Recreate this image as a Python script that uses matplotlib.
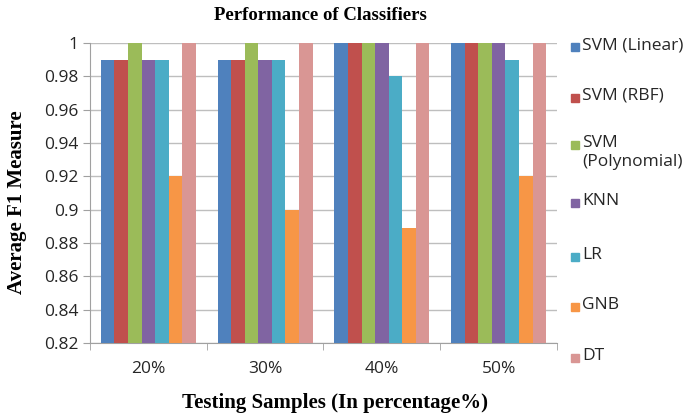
import matplotlib
matplotlib.use("Agg")
import matplotlib.pyplot as plt
from matplotlib.patches import Rectangle
import numpy as np

# Data
groups = ["20%", "30%", "40%", "50%"]
classifiers = ["SVM (Linear)", "SVM (RBF)", "SVM\n(Polynomial)", "KNN", "LR", "GNB", "DT"]
svm_linear = [0.99, 0.99, 1.0, 1.0]
svm_rbf = [0.99, 0.99, 1.0, 1.0]
svm_poly = [1.0, 1.0, 1.0, 1.0]
knn = [0.99, 0.99, 1.0, 1.0]
lr = [0.99, 0.99, 0.98, 0.99]
gnb = [0.92, 0.90, 0.889, 0.92]
dt = [1.0, 1.0, 1.0, 1.0]
series = [svm_linear, svm_rbf, svm_poly, knn, lr, gnb, dt]

colors = ["#4F81BD", "#C0504D", "#9BBB59", "#8064A2", "#4BACC6", "#F79646", "#D99694"]

W, H = 693, 420
fig = plt.figure(figsize=(W / 100, H / 100), dpi=100)
ax = fig.add_axes([90 / W, 1 - 343 / H, (557 - 90) / W, (343 - 43) / H])

tick_font = "Open Sans"
serif = "Liberation Serif"
txt_col = "#262626"
fs = 12.5

x = np.arange(len(groups))
n = len(series)
group_w = 7 / (7 + 1.6)
bw = group_w / n
for i, (vals, c) in enumerate(zip(series, colors)):
    offs = -group_w / 2 + bw * (i + 0.5)
    ax.bar(x + offs, vals, bw, color=c, zorder=3)

ax.set_ylim(0.82, 1.0)
ax.set_xlim(-0.5, len(groups) - 0.5)
yt = np.round(np.arange(0.82, 1.0001, 0.02), 2)
ax.set_yticks(yt)
ax.set_yticklabels([f"{v:g}" for v in yt], fontsize=fs, family=tick_font, color=txt_col)
ax.yaxis.grid(True, color="#BEBEBE", linewidth=1, zorder=0)
ax.tick_params(axis="y", length=5, color="#A0A0A0", pad=3)

ax.set_xticks(x)
ax.set_xticklabels(groups, fontsize=fs, family=tick_font, color=txt_col)
ax.tick_params(axis="x", length=0, pad=13)
ax.set_xticks(np.arange(-0.5, len(groups) + 0.5, 1), minor=True)
ax.tick_params(axis="x", which="minor", length=5, color="#A0A0A0")

for s in ["top", "right"]:
    ax.spines[s].set_visible(False)
for s in ["left", "bottom"]:
    ax.spines[s].set_color("#A0A0A0")

fig.text(320 / W, 1 - 16 / H, "Performance of Classifiers", ha="center", va="center",
         fontsize=13.5, fontweight="bold", family=serif)
fig.text(335 / W, 1 - 403 / H, "Testing Samples (In percentage%)", ha="center", va="center",
         fontsize=15, fontweight="bold", family=serif)
fig.text(17 / W, 1 - 202 / H, "Average F1 Measure", ha="center", va="center",
         rotation=90, fontsize=15, fontweight="bold", family=serif)

# legend laid out like the Excel original
leg_y = [47, 98, 145, 203, 257, 307, 358]
for lbl, c, yy in zip(classifiers, colors, leg_y):
    fig.add_artist(Rectangle((571 / W, 1 - (yy + 4) / H), 8 / W, 8 / H,
                             transform=fig.transFigure, color=c))
    fig.text(582 / W, 1 - (yy - 10) / H, lbl, ha="left", va="top",
             fontsize=fs, family=tick_font, color=txt_col, linespacing=1.25)

fig.savefig("out.png", dpi=100)
